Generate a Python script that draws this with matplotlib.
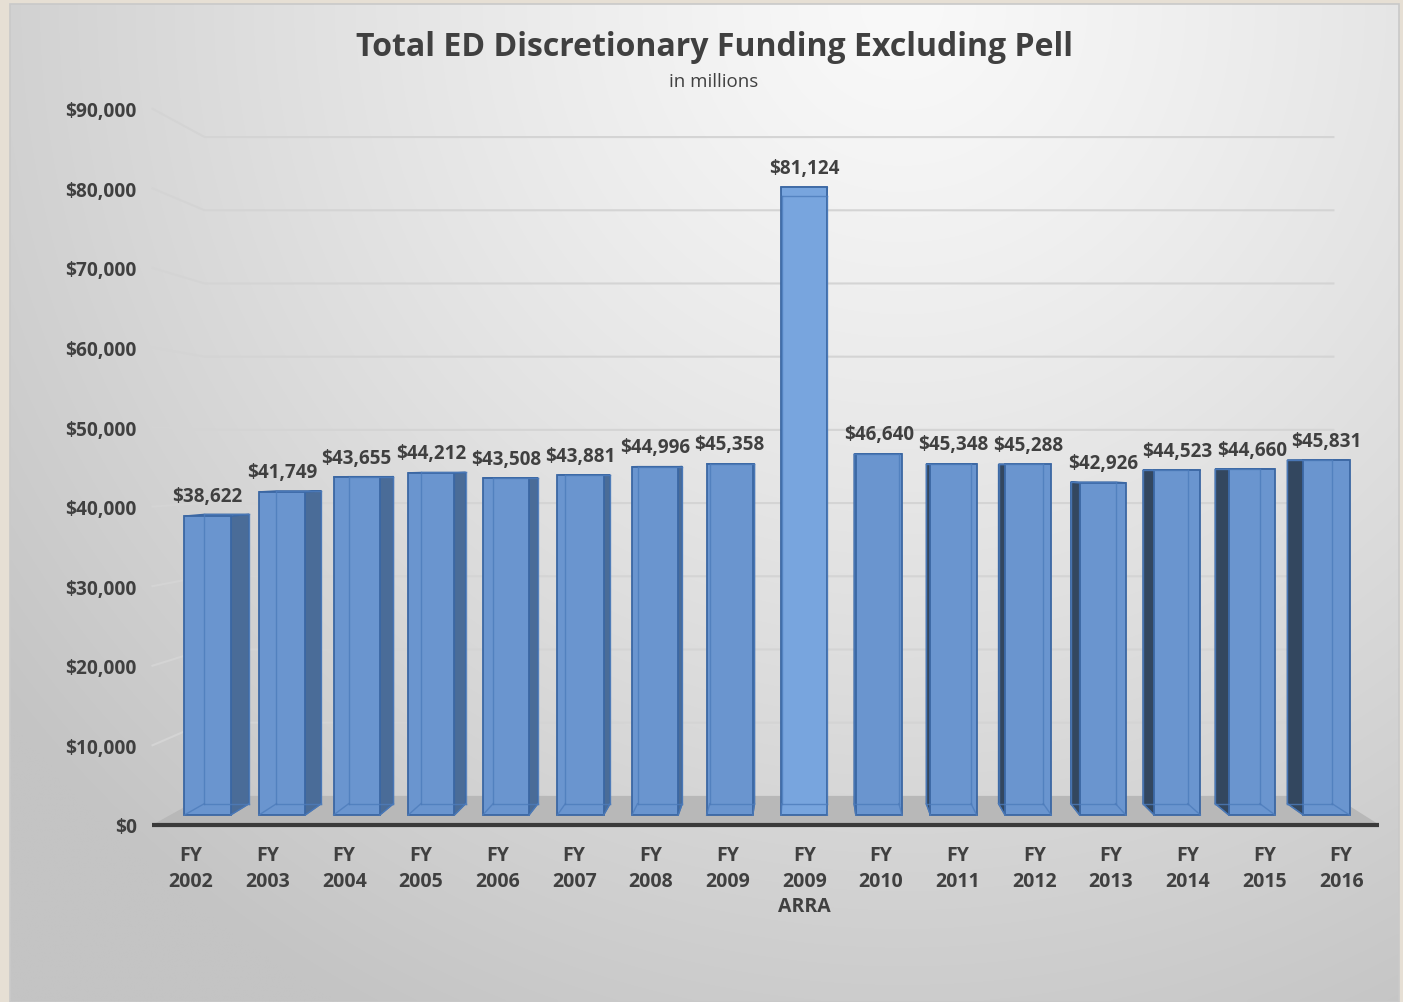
import numpy as np
import matplotlib
matplotlib.use("Agg")
import matplotlib.pyplot as plt
from matplotlib.patches import Polygon, Rectangle

# ---------------- data ----------------
categories = ["FY\n2002", "FY\n2003", "FY\n2004", "FY\n2005", "FY\n2006", "FY\n2007",
              "FY\n2008", "FY\n2009", "FY\n2009\nARRA", "FY\n2010", "FY\n2011",
              "FY\n2012", "FY\n2013", "FY\n2014", "FY\n2015", "FY\n2016"]
values = [38622, 41749, 43655, 44212, 43508, 43881, 44996, 45358, 81124,
          46640, 45348, 45288, 42926, 44523, 44660, 45831]
y_ticks = [0, 10000, 20000, 30000, 40000, 50000, 60000, 70000, 80000, 90000]
y_tick_labels = ["$0", "$10,000", "$20,000", "$30,000", "$40,000", "$50,000",
                 "$60,000", "$70,000", "$80,000", "$90,000"]
title = "Total ED Discretionary Funding Excluding Pell"
subtitle = "in millions"

# ---------------- style ----------------
plt.rcParams['font.family'] = ['Open Sans', 'DejaVu Sans']
TXT = "#404040"
W, H, DPI = 1403, 1003, 100

# pseudo-3D perspective parameters (depth t: 0 = floor front, 1 = back wall)
XV, YV = 8.0, 45543.0        # vanishing point in front-face data coords
T_A, T_B = 0.34, 0.73        # bar front / back depth
BAR_W = 0.62
X_LO, X_HI = -0.5, len(values) - 0.5


def proj(x, v, t):
    r = (1 - 0.08 * t) / (1 - 0.08 * T_A)
    return XV + r * (x - XV), YV + r * (v - YV)


fig = plt.figure(figsize=(W / DPI, H / DPI), dpi=DPI)
fig.patch.set_facecolor("#e6dfd4")

# background panel with soft radial gradient
bg = fig.add_axes([0, 0, 1, 1])
bg.set_xlim(0, W)
bg.set_ylim(H, 0)
bg.axis("off")
yy, xx = np.mgrid[0:H:4, 0:W:4]
d = np.sqrt((xx - 900) ** 2 + (yy - 0) ** 2) / 1150.0
g = 249 - (249 - 196) * np.clip(d, 0, 1) ** 1.2
img = np.dstack([g, g, g]) / 255.0
bg.imshow(img, extent=[10, W - 4, H, 5], aspect="auto", interpolation="bilinear", zorder=0)
bg.add_patch(Rectangle((10, 5), W - 14, H - 5, fill=False, ec="#c9c9c9", lw=1.2, zorder=1))

# main axes: pixel -> data mapping (x: 207.5 px at 0, 74.6 px / unit; y: 816 px at 0, 7.74 px / 1000)
L_PX, R_PX, T_PX, B_PX = 145, 1400, 90, 832
ax = fig.add_axes([L_PX / W, (H - B_PX) / H, (R_PX - L_PX) / W, (B_PX - T_PX) / H])
ax.set_xlim((L_PX - 207.5) / 74.6, (R_PX - 207.5) / 74.6)
ax.set_ylim((816 - B_PX) / 0.00774, (816 - T_PX) / 0.00774)
ax.patch.set_alpha(0)
for s in ax.spines.values():
    s.set_visible(False)

# floor
floor = [proj(X_LO, 0, 0), proj(X_HI, 0, 0), proj(X_HI, 0, 1), proj(X_LO, 0, 1)]
ax.add_patch(Polygon(floor, closed=True, fc="#b8b8b8", ec="none", zorder=1))

# gridlines: back wall + left wall
for v in y_ticks[1:]:
    pts = [proj(X_LO, v, 0), proj(X_LO, v, 1), proj(X_HI, v, 1)]
    ax.plot([p[0] for p in pts], [p[1] for p in pts], color="#d4d4d4", lw=1.5, zorder=1,
            solid_joinstyle="miter")

# front axis line
fa = [proj(X_LO, 0, 0), proj(X_HI, 0, 0)]
ax.plot([fa[0][0], fa[1][0]], [fa[0][1], fa[1][1]], color="#3a3a3a", lw=3, zorder=2,
        solid_capstyle="butt")

FRONT = "#6a95cf"
EDGE = "#3b67a3"
x = np.arange(len(values))

# side + top faces
for i, v in zip(x, values):
    xl, xr = i - BAR_W / 2, i + BAR_W / 2
    if i < XV:
        side = [proj(xr, 0, T_A), proj(xr, 0, T_B), proj(xr, v, T_B), proj(xr, v, T_A)]
        sc = "#4a6c98"
    else:
        side = [proj(xl, 0, T_A), proj(xl, 0, T_B), proj(xl, v, T_B), proj(xl, v, T_A)]
        sc = "#33475f"
    if i != XV:
        ax.add_patch(Polygon(side, closed=True, fc=sc, ec=EDGE, lw=1.0, zorder=3))
    top = [proj(xl, v, T_A), proj(xr, v, T_A), proj(xr, v, T_B), proj(xl, v, T_B)]
    ax.add_patch(Polygon(top, closed=True, fc="#86abdc", ec=EDGE, lw=1.0, zorder=3))

bar_colors = [FRONT if c != 8 else "#78a5de" for c in x]
bars = ax.bar(x, values, width=BAR_W, bottom=0, color=bar_colors, edgecolor=EDGE,
              linewidth=1.3, zorder=4)

# hidden (back) edges seen through the translucent bars
for i, v in zip(x, values):
    xl, xr = i - BAR_W / 2, i + BAR_W / 2
    segs = [
        [proj(xl, 0, T_B), proj(xr, 0, T_B)],
        [proj(xl, v, T_B), proj(xr, v, T_B)],
        [proj(xl, 0, T_B), proj(xl, v, T_B)],
        [proj(xr, 0, T_B), proj(xr, v, T_B)],
        [proj(xl, 0, T_A), proj(xl, 0, T_B)],
        [proj(xr, 0, T_A), proj(xr, 0, T_B)],
    ]
    for a, b in segs:
        ax.plot([a[0], b[0]], [a[1], b[1]], color="#4d7cbb", lw=1.0, alpha=0.8, zorder=5)

# value labels
for i, v in zip(x, values):
    ax.annotate(f"${v:,}", (i, v), xytext=(0, 10.5), textcoords="offset points",
                ha="center", va="baseline", fontsize=13.6, fontweight="bold", color=TXT, zorder=6)

# ticks at the front plane
ax.set_xticks([proj(i, 0, 0)[0] for i in x])
ax.set_xticklabels(categories, fontsize=14, fontweight="bold", color=TXT, linespacing=1.38)
ax.set_yticks([proj(X_LO, v, 0)[1] for v in y_ticks])
ax.set_yticklabels(y_tick_labels, fontsize=13.8, fontweight="bold", color=TXT)
ax.tick_params(axis="x", length=0, pad=10)
ax.tick_params(axis="y", length=0, pad=6)

fig.text(714 / W, 1 - 47 / H, title, ha="center", va="center", fontsize=23,
         fontweight="bold", color=TXT)
fig.text(714 / W, 1 - 82 / H, subtitle, ha="center", va="center", fontsize=13.5, color=TXT)

fig.savefig("out.png", dpi=DPI, facecolor=fig.get_facecolor())
